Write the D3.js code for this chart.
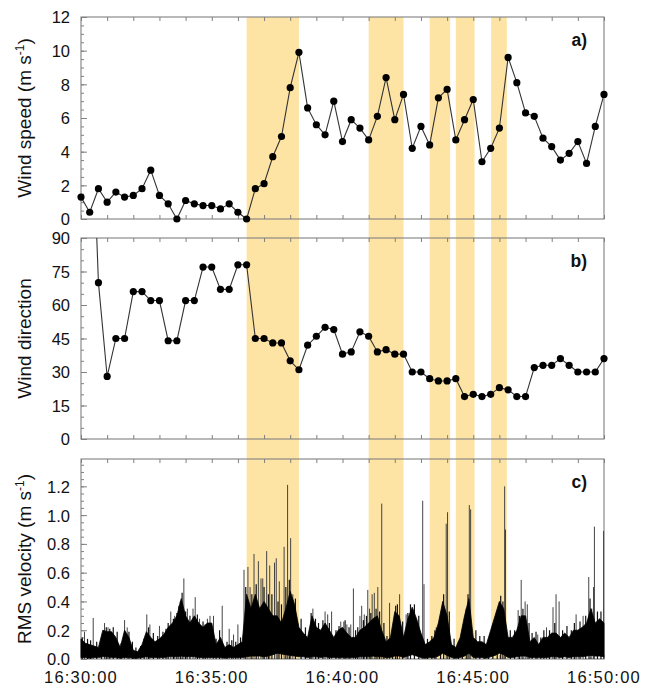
<!DOCTYPE html>
<html><head><meta charset="utf-8">
<script src="https://cdn.jsdelivr.net/npm/d3@7"></script>
<style>
body{margin:0;background:#fff}
text{font-family:"Liberation Sans",Arial,Helvetica,sans-serif;fill:#111}
</style>
</head><body>
<svg id="chart" width="653" height="687"></svg>
<script>
// ---------------- DATA ----------------
const timeLabels = ["16:30:00","16:35:00","16:40:00","16:45:00","16:50:00"];
const bandStart = [380, 660, 800, 860, 941];
const bandEnd   = [500, 740, 847, 903, 977];

const windSpeed = [1.3,0.4,1.8,1.0,1.6,1.3,1.4,1.8,2.9,1.4,0.9,0.0,1.1,0.9,0.8,0.8,0.6,0.9,0.4,0.0,
  1.8,2.1,3.7,4.9,7.8,9.9,6.6,5.6,5.0,7.0,4.6,5.9,5.4,4.7,6.1,8.4,5.9,7.4,4.2,5.5,
  4.4,7.2,7.7,4.7,5.9,7.1,3.4,4.2,5.4,9.6,8.1,6.3,6.1,4.8,4.3,3.5,3.9,4.6,3.3,5.5,7.4];
const windDir = [180,175,70,28,45,45,66,66,62,62,44,44,62,62,77,77,67,67,78,78,
  45,45,43,43,35,31,42,46,50,49,38,39,48,46,39,40,38,38,30,30,
  27,26,26,27,19,20,19,20,23,22,19,19,32,33,33,36,33,30,30,30,36];
const rmsHigh = [0.14,0.11,0.10,0.09,0.08,0.20,0.19,0.19,0.15,0.08,
  0.20,0.15,0.06,0.05,0.10,0.19,0.15,0.12,0.14,0.17,
  0.22,0.25,0.30,0.42,0.30,0.25,0.30,0.25,0.22,0.25,
  0.25,0.10,0.15,0.08,0.10,0.08,0.10,0.12,0.45,0.35,
  0.45,0.35,0.40,0.35,0.30,0.30,0.25,0.35,0.47,0.38,
  0.22,0.18,0.15,0.30,0.22,0.20,0.25,0.20,0.15,0.20,
  0.22,0.18,0.15,0.15,0.20,0.22,0.25,0.28,0.30,0.20,
  0.12,0.15,0.33,0.30,0.15,0.28,0.36,0.28,0.18,0.10,
  0.12,0.15,0.25,0.40,0.30,0.10,0.08,0.15,0.30,0.42,
  0.15,0.12,0.12,0.10,0.20,0.30,0.40,0.35,0.15,0.15,
  0.20,0.30,0.30,0.12,0.15,0.10,0.15,0.15,0.18,0.18,
  0.15,0.18,0.15,0.20,0.20,0.22,0.25,0.35,0.25,0.28,
  0.25];
const rmsLow = [0.01,0.01,0.005,0.01,0.01,0.015,0.015,0.01,0.01,0.005,
  0.01,0.01,0.005,0.005,0.01,0.015,0.01,0.01,0.01,0.01,
  0.015,0.015,0.015,0.02,0.015,0.015,0.015,0.01,0.01,0.01,
  0.01,0.01,0.01,0.005,0.01,0.01,0.01,0.01,0.015,0.02,
  0.02,0.02,0.015,0.02,0.03,0.04,0.035,0.03,0.025,0.02,
  0.015,0.015,0.01,0.015,0.015,0.01,0.015,0.01,0.01,0.01,
  0.01,0.01,0.01,0.01,0.015,0.015,0.015,0.02,0.015,0.015,
  0.01,0.01,0.02,0.02,0.01,0.02,0.03,0.02,0.01,0.005,
  0.01,0.01,0.02,0.04,0.025,0.01,0.005,0.01,0.02,0.04,
  0.01,0.01,0.01,0.005,0.015,0.025,0.04,0.03,0.01,0.01,
  0.015,0.02,0.02,0.01,0.01,0.01,0.01,0.01,0.015,0.015,
  0.01,0.015,0.01,0.015,0.015,0.015,0.02,0.025,0.02,0.02,
  0.015];
// tall isolated spikes
const spikeTime = [8,28,54,62,100,106,151,158,180,206,215,224,236,244,257,262,272,290,296,304,
  324,340,350,360,374,383,388,397,407,413,417,426,433,444,448,455,466,474,481,486,
  532,560,566,575,596,603,610,619,625,640,644,650,658,662,668,673,681,690,708,731,
  746,784,787,815,838,841,891,894,972,974,1003,1010,1019,1024,1048,1068,1083,1090,1097,1136,
  1152,1165,1172,1176,1178,1199];
const spikeValue = [0.19,0.285,0.25,0.22,0.27,0.22,0.31,0.24,0.23,0.33,0.30,0.37,0.56,0.35,0.35,0.43,0.28,0.28,0.30,0.30,
  0.37,0.21,0.17,0.24,0.62,0.64,0.50,0.73,0.68,0.56,0.56,0.75,0.65,0.67,0.70,0.54,0.78,1.21,0.84,0.45,
  0.35,0.33,0.31,0.33,0.26,0.26,0.24,0.24,0.49,0.30,0.37,0.31,0.48,0.35,0.45,0.46,0.50,1.08,0.39,0.45,
  0.31,1.10,0.52,0.22,0.94,1.02,1.07,1.04,1.20,0.90,0.34,0.55,0.40,0.38,0.17,0.22,0.36,0.45,0.40,0.31,
  0.30,0.57,0.35,0.50,0.92,0.89];
// shorter spikes that make the ragged top of the dense trace
const fineTime = [3,15,22,36,47,58,66,74,83,92,110,118,126,137,145,155,166,176,188,195,
  200,212,220,228,232,240,250,267,280,285,310,318,335,346,355,366,378,392,402,420,
  430,438,452,460,470,478,492,505,515,525,528,538,545,555,570,585,592,606,615,630,
  635,648,655,665,677,685,695,702,715,722,726,738,750,756,765,775,795,805,812,825,
  832,845,856,866,875,884,888,906,915,925,935,945,955,963,968,985,995,1006,1014,1028,
  1035,1044,1055,1062,1075,1087,1105,1115,1125,1132,1145,1158,1168,1185,1193];
const fineValue = [0.15,0.14,0.13,0.12,0.12,0.22,0.21,0.22,0.19,0.11,0.19,0.12,0.08,0.09,0.14,0.22,0.18,0.16,0.19,0.21,
  0.25,0.28,0.32,0.40,0.46,0.33,0.30,0.31,0.26,0.24,0.14,0.20,0.12,0.13,0.12,0.15,0.50,0.45,0.52,0.50,
  0.45,0.45,0.40,0.38,0.50,0.55,0.42,0.28,0.22,0.20,0.32,0.28,0.25,0.27,0.25,0.20,0.23,0.27,0.22,0.20,
  0.22,0.27,0.30,0.32,0.35,0.33,0.25,0.16,0.20,0.37,0.38,0.26,0.32,0.38,0.38,0.30,0.14,0.16,0.20,0.30,
  0.45,0.33,0.14,0.12,0.20,0.35,0.45,0.20,0.16,0.16,0.14,0.24,0.33,0.44,0.40,0.20,0.20,0.30,0.35,0.25,
  0.18,0.19,0.15,0.20,0.20,0.25,0.20,0.23,0.20,0.25,0.26,0.30,0.42,0.33,0.33];

// ---------------- LAYOUT ----------------
const svg = d3.select("#chart");
const L = 81, R = 604;
const P = {a:{top:17,bot:219}, b:{top:238,bot:439}, c:{top:459,bot:659}};
const x = d3.scaleLinear().domain([0,1200]).range([L,R]);
const sampleT = windSpeed.map((d,i)=>i*20);
const rmsT = rmsHigh.map((d,i)=>i*10);
const minuteTicks = d3.range(0,1201,60);

const yA = d3.scaleLinear().domain([0,12]).range([P.a.bot,P.a.top]);
const yB = d3.scaleLinear().domain([0,90]).range([P.b.bot,P.b.top]);
const yC = d3.scaleLinear().domain([0,1.39]).range([P.c.bot,P.c.top]);

const AX = "#808080";
svg.append("g").selectAll("rect").data(bandStart).join("rect")
  .attr("x",(d)=>x(d)).attr("width",(d,i)=>x(bandEnd[i])-x(d))
  .attr("y",P.a.top).attr("height",P.c.bot-P.a.top)
  .attr("fill","#fde4a4");

function panelAxes(p, y, minor, major, fmt){
  const g = svg.append("g");
  g.append("g").attr("transform",`translate(0,${p.bot})`)
    .call(d3.axisBottom(x).tickValues(minuteTicks).tickSize(-4).tickFormat(""));
  g.append("g").attr("transform",`translate(0,${p.top})`)
    .call(d3.axisTop(x).tickValues(minuteTicks).tickSize(-4).tickFormat(""));
  g.append("g").attr("transform",`translate(${L},0)`)
    .call(d3.axisLeft(y).tickValues(minor).tickSize(-3).tickFormat(""));
  g.append("g").attr("transform",`translate(${L},0)`)
    .call(d3.axisLeft(y).tickValues(major).tickSize(-6).tickPadding(11).tickFormat(fmt))
    .selectAll("text").style("font-size","16.5px").attr("fill","#111").attr("dy","0.36em");
  g.selectAll(".domain").remove();
  g.selectAll(".tick line").attr("stroke",AX);
  g.append("rect").attr("x",L).attr("y",p.top).attr("width",R-L).attr("height",p.bot-p.top)
    .attr("fill","none").attr("stroke",AX).attr("stroke-width",1.1);
}
function yTitle(p, main, sup){
  const cy = (p.top+p.bot)/2;
  const t = svg.append("text").attr("transform",`translate(31,${cy}) rotate(-90)`)
    .attr("text-anchor","middle").style("font-size","19px");
  t.append("tspan").text(main);
  if(sup){
    t.append("tspan").text(sup).attr("dy",-7).style("font-size","12px");
    t.append("tspan").text(")").attr("dy",7);
  }
}
function panelLabel(p, s){
  svg.append("text").attr("x",587).attr("y",p.top+29).attr("text-anchor","end")
    .style("font-size","17.5px").style("font-weight","bold").text(s);
}

// ---- panel a
panelAxes(P.a, yA, d3.range(0,12.01,0.5), d3.range(0,12.01,2), d3.format("d"));
const lineA = d3.line().x((d,i)=>x(sampleT[i])).y(d=>yA(d));
svg.append("path").datum(windSpeed).attr("d",lineA).attr("fill","none").attr("stroke","#333").attr("stroke-width",1.1);
svg.append("g").selectAll("circle").data(windSpeed).join("circle")
  .attr("cx",(d,i)=>x(sampleT[i])).attr("cy",d=>yA(d)).attr("r",3.6).attr("fill","#000");
yTitle(P.a,"Wind speed (m s","-1");
panelLabel(P.a,"a)");

// ---- panel b
panelAxes(P.b, yB, d3.range(0,90.1,5), d3.range(0,90.1,15), d3.format("d"));
svg.append("clipPath").attr("id","clipB").append("rect")
  .attr("x",L-5).attr("y",P.b.top).attr("width",R-L+10).attr("height",P.b.bot-P.b.top);
const gB = svg.append("g").attr("clip-path","url(#clipB)");
const lineB = d3.line().x((d,i)=>x(sampleT[i])).y(d=>yB(d));
gB.append("path").datum(windDir).attr("d",lineB).attr("fill","none").attr("stroke","#333").attr("stroke-width",1.1);
gB.selectAll("circle").data(windDir.map((d,i)=>[sampleT[i],d]).filter(d=>d[1]<=90)).join("circle")
  .attr("cx",d=>x(d[0])).attr("cy",d=>yB(d[1])).attr("r",3.6).attr("fill","#000");
yTitle(P.b,"Wind direction",null);
panelLabel(P.b,"b)");

// ---- panel c
panelAxes(P.c, yC, d3.range(0,1.36,0.05), d3.range(0,1.21,0.2), d3.format(".1f"));
const gC = svg.append("g");
gC.selectAll("line.sp").data(spikeTime).join("line").attr("class","sp")
  .attr("x1",d=>x(d)).attr("x2",d=>x(d))
  .attr("y1",yC(0)).attr("y2",(d,i)=>yC(spikeValue[i]))
  .attr("stroke","#444").attr("stroke-width",1);
gC.selectAll("line.fn").data(fineTime).join("line").attr("class","fn")
  .attr("x1",d=>x(d)).attr("x2",d=>x(d))
  .attr("y1",yC(0)).attr("y2",(d,i)=>yC(fineValue[i]))
  .attr("stroke","#111").attr("stroke-width",1.2);
const areaC = d3.area().x((d,i)=>x(rmsT[i])).y0((d,i)=>yC(rmsLow[i])).y1(d=>yC(d));
gC.append("path").datum(rmsHigh).attr("d",areaC).attr("fill","#000").attr("stroke","#000").attr("stroke-width",0.8);
yTitle(P.c,"RMS velocity (m s","-1");
panelLabel(P.c,"c)");

svg.append("g").selectAll("text").data(timeLabels).join("text")
  .attr("x",(d,i)=>x(i*300)).attr("y",683).attr("text-anchor","middle")
  .style("font-size","16.5px").style("letter-spacing","1.2px").text(d=>d);
</script>
</body></html>
